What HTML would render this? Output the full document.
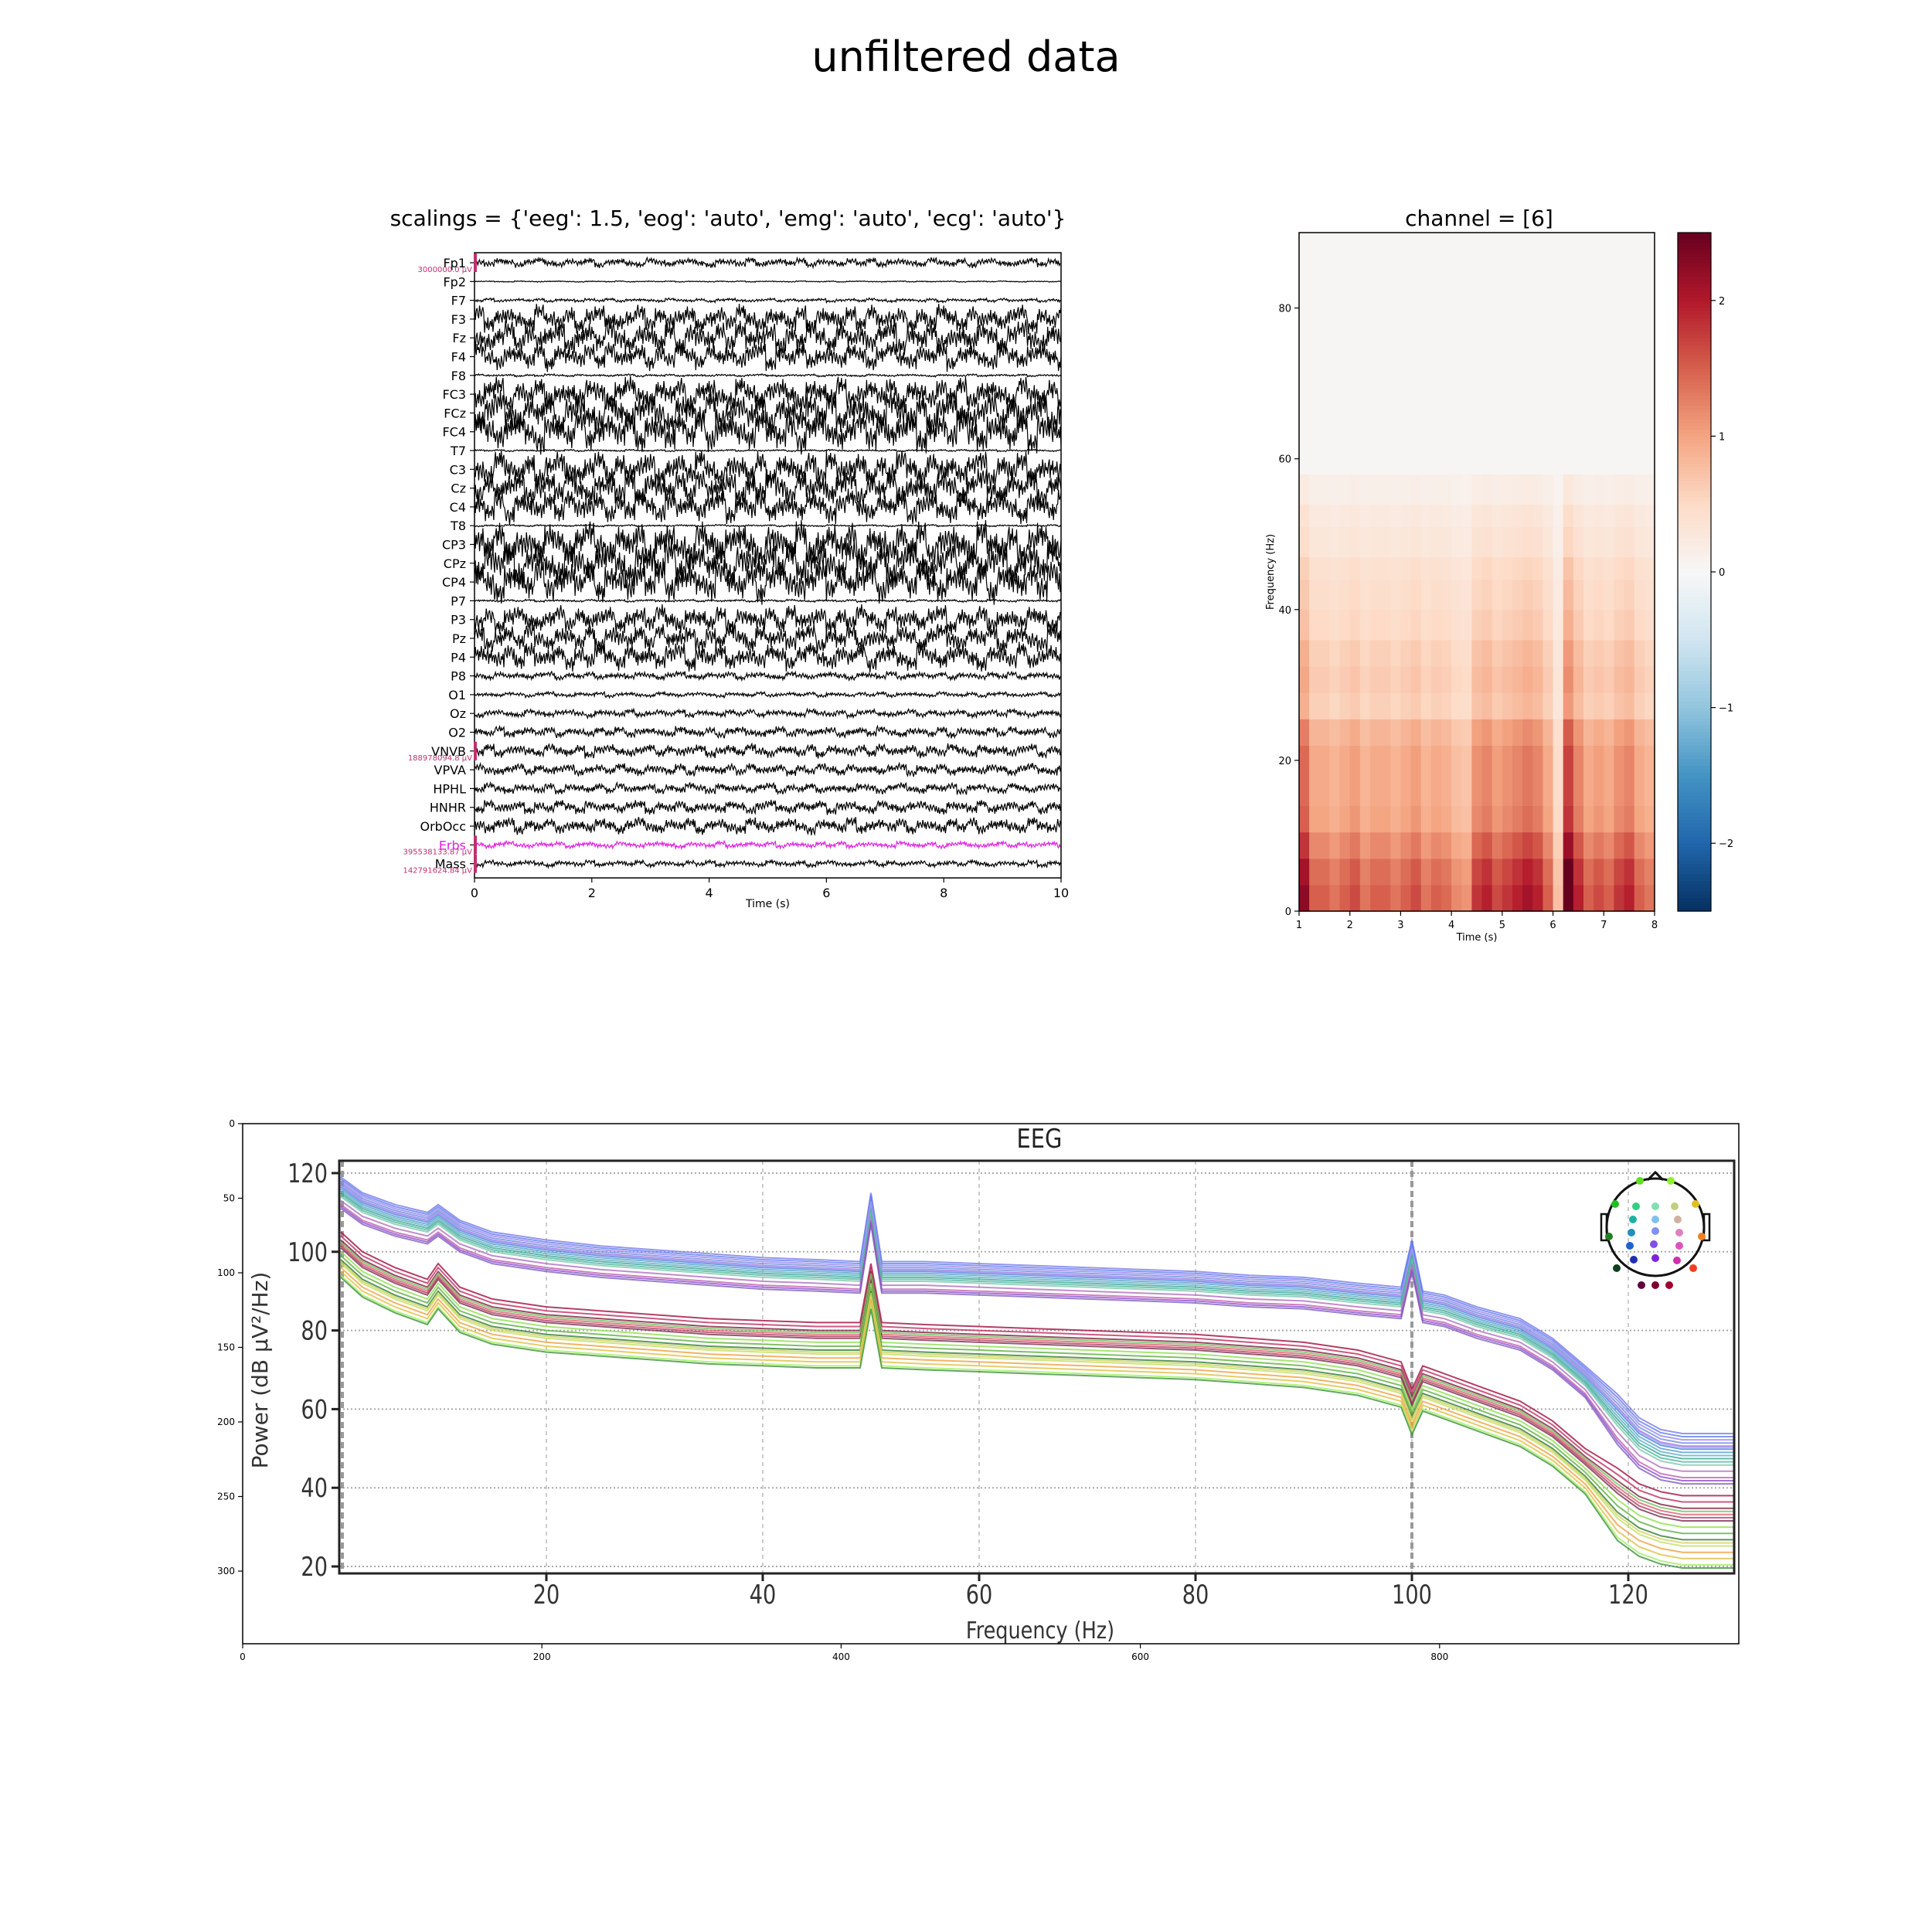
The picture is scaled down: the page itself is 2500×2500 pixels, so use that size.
<!DOCTYPE html>
<html><head><meta charset="utf-8"><style>
html,body{margin:0;padding:0;background:#fff;}
svg{display:block;font-family:"DejaVu Sans","Liberation Sans",sans-serif;}
</style></head><body>
<svg id="fig" width="2500" height="2500" viewBox="0 0 2500 2500" xmlns="http://www.w3.org/2000/svg">
<rect width="2500" height="2500" fill="#fff"/>
<text x="1250" y="92" font-size="54" text-anchor="middle">unfiltered data</text>
<g id="traces"></g>
<g id="spec"></g>
<g id="psd"></g>
</svg>
<script>
// ---------- data ----------
const channels = ["Fp1","Fp2","F7","F3","Fz","F4","F8","FC3","FCz","FC4","T7","C3","Cz","C4","T8","CP3","CPz","CP4","P7","P3","Pz","P4","P8","O1","Oz","O2","VNVB","VPVA","HPHL","HNHR","OrbOcc","Erbs","Mass"];
const amps = [0.35,0.05,0.15,1.0,1.2,1.0,0.1,1.2,1.5,1.5,0.08,1.3,1.3,1.2,0.08,1.6,1.6,1.5,0.1,1.0,1.0,1.0,0.3,0.2,0.3,0.4,0.5,0.45,0.4,0.5,0.6,0.25,0.25];
const wave = [0.1,-0.4,0.6,0.2,-0.8,0.3,0.9,-0.2,-0.6,0.4,0.0,0.7,-0.9,0.2,0.5,-0.3,-0.7,0.8,0.1,-0.5,0.3,0.6,-0.1,-0.9,0.4,0.2,-0.4,0.9,-0.6,0.0,0.5,-0.2,0.7,-0.8,0.3,0.1,-0.5,0.6,-0.3,0.8,-0.7,0.2,0.4,-0.1,-0.6,0.9,0.0,-0.4,0.5,-0.9,0.3,0.7,-0.2,-0.5,0.1,0.8,-0.6,0.4,-0.3,0.2,0.6,-0.8,0.0,0.5,-0.4,0.9,-0.1,-0.7,0.3,0.2,-0.5,0.7,-0.9,0.4,0.1,-0.3,0.6,-0.6,0.8,-0.2,0.0,0.5,-0.8,0.3,-0.4,0.9,0.1,-0.7,0.6,-0.1,0.2,-0.5,0.4,0.8,-0.9,0.3,-0.2,0.7,-0.6,0.0];
const traceTicks = [0,2,4,6,8,10];

const specTicksX = [1,2,3,4,5,6,7,8];
const specTicksY = [0,20,40,60,80];
const bandEdges = [0,3.5,7,10.5,14,18,22,25.5,29,32.5,36,40,44,47,51,54,58,90];
const rowMean = [1.5,1.4,1.2,1.0,0.95,0.95,0.85,0.6,0.65,0.6,0.5,0.45,0.4,0.3,0.25,0.15,0.03];
const colFactor = [1.5,1.0,1.0,0.9,1.0,1.1,0.9,1.0,1.0,0.9,1.0,1.1,0.9,1.0,0.95,0.8,0.75,1.2,1.3,1.1,1.2,1.3,1.4,1.3,1.0,0.5,1.8,1.3,1.0,1.1,1.0,1.2,1.3,1.0,0.9];
const cbarTicks = [-2,-1,0,1,2];

const psdFreqs = [1,3,6,9,10,12,15,20,25,30,35,40,45,49,50,51,55,60,65,70,75,80,85,90,95,99,100,101,103,106,110,113,116,119,121,123,125,130];
const highGroup = [116,112,109,107,109,105,102,100,98.5,97.5,96.5,95.5,95,94.5,112,94.5,94.5,94,93.5,93,92.5,92,91,90.5,89,88,100,87,86,83,80,75,68,59,53,50,49,49];
const lowGroup  = [100,95,91,88,92,86,83,81,80,79,78,77.5,77,77,92,77,76.5,76,75.5,75,74.5,74,73,72,70,67,60,66,64,61,57,52,45,37,33,31,30,30];
const highOffsets = [3,2,1.5,0.5,0,-0.5,-1,-2,1,-3,-4,-4.5,-5,2.5,-1.5,0.8];
const highColors = ["#7b7be8","#9a86f0","#6d8fe0","#4c7fd8","#55a0d0","#5fb0c0","#3aa69a","#80c8b0","#a070e0","#b070c0","#c060b0","#9050d0","#8060c0","#6080f0","#50b8a0","#a0a0f0"];
const lowOffsets = [5,4,3,2,1.5,1,0,-1,-2,-3,-4,-5,-6,-6.5,2.5,-2.5];
const lowColors = ["#a01040","#c03060","#802040","#e06070","#b04060","#7a3050","#90e050","#60b040","#308030","#c0e060","#f0a040","#e0c040","#a0f060","#409040","#70c060","#d0d060"];
const psdTicksX = [20,40,60,80,100,120];
const psdTicksY = [20,40,60,80,100,120];
const imgTicksX = [0,200,400,600,800];
const imgTicksY = [0,50,100,150,200,250,300];

// ---------- helpers ----------
const NS = "http://www.w3.org/2000/svg";
function mk(parent, tag, attrs, text){
  const e = document.createElementNS(NS, tag);
  for (const k in attrs) e.setAttribute(k, attrs[k]);
  if (text !== undefined) e.textContent = text;
  parent.appendChild(e); return e;
}

// ---------- traces panel ----------
(function(){
  const g = document.getElementById('traces');
  const L=614, R=1373, T=327, B=1136;
  const y0=340, dy=24.3;
  const xT = t => L + (t/10)*(R-L);
  const chY = i => y0 + i*dy;
  let t = mk(g,'text',{x:942, y:292, 'font-size':28, 'text-anchor':'middle'}, "scalings = {'eeg': 1.5, 'eog': 'auto', 'emg': 'auto', 'ecg': 'auto'}");
  
  
  const N = 700;
  channels.forEach((name,i)=>{
    const yc = chY(i);
    let pts = [];
    const off = (i*37)%wave.length;
    const slow = (i*13)%wave.length;
    for (let k=0;k<=N;k++){
      const v = wave[(k+off)%wave.length]*0.6 + wave[(Math.floor(k/12)+slow)%wave.length]*0.6;
      pts.push((L + k*(R-L)/N).toFixed(1)+','+(yc - v*amps[i]*dy*0.75).toFixed(1));
    }
    const p = mk(g,'polyline',{points:pts.join(' '), fill:'none', stroke: name==='Erbs'?'#e020e0':'#000', 'stroke-width':1.2});
    
    
    const lb = mk(g,'text',{x:603, y:yc+6, 'font-size':16, 'text-anchor':'end', fill: name==='Erbs'?'#e020e0':'#000'}, name);
    
    
    mk(g,'line',{x1:L-6,x2:L,y1:yc,y2:yc,stroke:'#000','stroke-width':1.2});
  });
  const f = mk(g,'rect',{x:L,y:T,width:R-L,height:B-T,fill:'none',stroke:'#000','stroke-width':1.5});
  
  
  [[0,"3000000.0 µV"],[26,"188978094.8 µV"],[31,"395538133.87 µV"],[32,"142791624.84 µV"]].forEach(([i,lab])=>{
    const yc=chY(i);
    mk(g,'line',{x1:L+1,x2:L+1,y1:yc-12,y2:yc+12,stroke:'#c03070','stroke-width':4});
    const s = mk(g,'text',{x:L-3,y:yc+12,'font-size':10,'text-anchor':'end',fill:'#c03070'},lab);
    
    
  });
  traceTicks.forEach(v=>{
    mk(g,'line',{x1:xT(v),x2:xT(v),y1:B,y2:B+6,stroke:'#000','stroke-width':1.2});
    const s=mk(g,'text',{x:xT(v),y:B+25,'font-size':16,'text-anchor':'middle'},String(v));
    
    
  });
  const xl=mk(g,'text',{x:(L+R)/2,y:B+38,'font-size':14,'text-anchor':'middle'},'Time (s)');
  
  
})();

// ---------- spectrogram ----------
const rdbu = ["#053061","#2166ac","#4393c3","#92c5de","#d1e5f0","#f7f7f7","#fddbc7","#f4a582","#d6604d","#b2182b","#67001f"];
function cmap(v){
  let u = (v+2.5)/5; u=Math.max(0,Math.min(1,u));
  const s = u*(rdbu.length-1), i=Math.min(rdbu.length-2,Math.floor(s)), fr=s-i;
  const a=rdbu[i], b=rdbu[i+1];
  const c=[1,3,5].map(j=>Math.round(parseInt(a.substr(j,2),16)*(1-fr)+parseInt(b.substr(j,2),16)*fr));
  return 'rgb('+c.join(',')+')';
}
(function(){
  const g=document.getElementById('spec');
  const L=1681,R=2141,T=301,B=1179;
  const xT=t=>L+(t-1)/7*(R-L);
  const yF=f=>B-(f/90)*(B-T);
  const nC=colFactor.length, w=(R-L)/nC;
  rowMean.forEach((rm,r)=>{
    colFactor.forEach((cf,c)=>{
      const v = r===rowMean.length-1 ? rm : rm*cf;
      const y1=yF(bandEdges[r+1]), y2=yF(bandEdges[r]);
      const cell=mk(g,'rect',{x:(L+c*w).toFixed(2),y:y1.toFixed(2),width:(w+0.6).toFixed(2),height:(y2-y1+0.6).toFixed(2),fill:cmap(v)});
      
      
    });
  });
  const f=mk(g,'rect',{x:L,y:T,width:R-L,height:B-T,fill:'none',stroke:'#000','stroke-width':1.5});
  
  
  const tt=mk(g,'text',{x:1914,y:292,'font-size':28,'text-anchor':'middle'},'channel = [6]');
  
  
  specTicksX.forEach(v=>{
    mk(g,'line',{x1:xT(v),x2:xT(v),y1:B,y2:B+6,stroke:'#000','stroke-width':1.2});
    const s=mk(g,'text',{x:xT(v),y:B+22,'font-size':13,'text-anchor':'middle'},String(v));
    
    
  });
  specTicksY.forEach(v=>{
    mk(g,'line',{x1:L-6,x2:L,y1:yF(v),y2:yF(v),stroke:'#000','stroke-width':1.2});
    const s=mk(g,'text',{x:L-10,y:yF(v)+5,'font-size':13,'text-anchor':'end'},String(v));
    
    
  });
  const xl=mk(g,'text',{x:(L+R)/2,y:B+38,'font-size':13,'text-anchor':'middle'},'Time (s)');
  
  
  const yl=mk(g,'text',{x:0,y:0,'font-size':13,'text-anchor':'middle',transform:'translate(1648,'+((T+B)/2)+') rotate(-90)'},'Frequency (Hz)');
  
  
  const CL=2171,CR=2214;
  const yc=v=>B-(v+2.5)/5*(B-T);
  for(let k=0;k<200;k++){
    const v=-2.5+5*(k+0.5)/200;
    mk(g,'rect',{x:CL,y:(B-(k+1)*(B-T)/200).toFixed(2),width:CR-CL,height:((B-T)/200+0.6).toFixed(2),fill:cmap(v)});
  }
  const cb=mk(g,'rect',{x:CL,y:T,width:CR-CL,height:B-T,fill:'none',stroke:'#000','stroke-width':1.2});
  
  
  cbarTicks.forEach(v=>{
    mk(g,'line',{x1:CR,x2:CR+6,y1:yc(v),y2:yc(v),stroke:'#000','stroke-width':1.2});
    const s=mk(g,'text',{x:CR+10,y:yc(v)+5,'font-size':13},v<0?'\u2212'+Math.abs(v):String(v));
    
    
  });
})();

// ---------- PSD image panel ----------
(function(){
  const g=document.getElementById('psd');
  const OL=314,OR=2250,OT=1454,OB=2127;
  const ix=v=>OL+v*1.936;
  const iy=v=>OT+v*1.93;
  const L=439,R=2244,T=1502,B=2036;
  const xF=f=>427+f*14.0;
  const yV=v=>1518+(120-v)*5.09;
  psdTicksX.forEach(v=>{ mk(g,'line',{x1:xF(v),x2:xF(v),y1:T,y2:B,stroke:'#bbb','stroke-width':1.5,'stroke-dasharray':'5,5'}); });
  psdTicksY.forEach(v=>{ mk(g,'line',{x1:L,x2:R,y1:yV(v),y2:yV(v),stroke:'#aaa','stroke-width':2,'stroke-dasharray':'2,3'}); });
  mk(g,'line',{x1:xF(100),x2:xF(100),y1:T,y2:B,stroke:'#999','stroke-width':4,'stroke-dasharray':'8,5'});
  mk(g,'line',{x1:L+4,x2:L+4,y1:T,y2:B,stroke:'#999','stroke-width':4,'stroke-dasharray':'8,5'});
  const clip=mk(g,'clipPath',{id:'psdclip'}); mk(clip,'rect',{x:L,y:T,width:R-L,height:B-T});
  const lines=mk(g,'g',{'clip-path':'url(#psdclip)'});
  function drawGroup(base,offs,cols,nm){
    offs.forEach((o,i)=>{
      const pts=psdFreqs.map((f,k)=>xF(f).toFixed(1)+','+yV(base[k]+o*(k>32?1.6:1)).toFixed(1)).join(' ');
      const p=mk(lines,'polyline',{points:pts,fill:'none',stroke:cols[i],'stroke-width':2,'stroke-opacity':0.8});
      
      
    });
  }
  drawGroup(highGroup,highOffsets,highColors,'high-group');
  drawGroup(lowGroup,lowOffsets,lowColors,'low-group');
  const fr=mk(g,'rect',{x:L,y:T,width:R-L,height:B-T,fill:'none',stroke:'#222','stroke-width':3});
  
  
  psdTicksX.forEach(v=>{
    mk(g,'line',{x1:xF(v),x2:xF(v),y1:B,y2:B+10,stroke:'#222','stroke-width':3});
    const s=mk(g,'text',{x:0,y:0,'font-size':34,'text-anchor':'middle',fill:'#333',transform:'translate('+xF(v)+',2075) scale(0.8,1)'},String(v));
    
    
  });
  psdTicksY.forEach(v=>{
    mk(g,'line',{x1:L-10,x2:L,y1:yV(v),y2:yV(v),stroke:'#222','stroke-width':3});
    const s=mk(g,'text',{x:0,y:0,'font-size':34,'text-anchor':'end',fill:'#333',transform:'translate(424,'+(yV(v)+12)+') scale(0.8,1)'},String(v));
    
    
  });
  const ti=mk(g,'text',{x:0,y:0,'font-size':34,'text-anchor':'middle',fill:'#222',transform:'translate(1345,1485) scale(0.85,1)'},'EEG');
  
  
  const xl=mk(g,'text',{x:0,y:0,'font-size':30,'text-anchor':'middle',fill:'#333',transform:'translate(1346,2120) scale(0.85,1)'},'Frequency (Hz)');
  
  
  const yl=mk(g,'text',{x:0,y:0,'font-size':28,'text-anchor':'middle',fill:'#333',transform:'translate(346,1773) rotate(-90)'},'Power (dB µV²/Hz)');
  
  
  const cx=2142,cy=1588,r=63;
  mk(g,'circle',{cx:cx,cy:cy,r:r,fill:'none',stroke:'#111','stroke-width':3});
  mk(g,'polyline',{points:(cx-10)+','+(cy-r+2)+' '+cx+','+(cy-r-8)+' '+(cx+10)+','+(cy-r+2),fill:'none',stroke:'#111','stroke-width':3});
  mk(g,'rect',{x:cx-r-7,y:cy-17,width:7,height:34,fill:'none',stroke:'#111','stroke-width':2.5});
  mk(g,'rect',{x:cx+r,y:cy-17,width:7,height:34,fill:'none',stroke:'#111','stroke-width':2.5});
  const dots=[[-20,-60,'#60e020'],[20,-60,'#90f030'],[-52,-30,'#20c020'],[52,-30,'#e0c020'],[-25,-27,'#30d080'],[0,-27,'#80e0b0'],[25,-27,'#c0d080'],[-29,-10,'#20b0a0'],[0,-10,'#80c0f0'],[29,-10,'#d0b0a0'],[-31,7,'#2090c0'],[0,5,'#8090f8'],[31,7,'#e080c0'],[-60,12,'#208020'],[60,12,'#f08020'],[-33,24,'#2060d0'],[-2,22,'#8050e0'],[31,24,'#e050c0'],[-28,42,'#2030b0'],[0,40,'#8020e0'],[28,43,'#d030b0'],[-50,53,'#104020'],[49,53,'#f04020'],[-18,75,'#600040'],[0,75,'#800030'],[18,75,'#a00030']];
  dots.forEach(d=>{
    const c=mk(g,'circle',{cx:cx+d[0],cy:cy+d[1],r:5,fill:d[2]});
    
    
  });
  const of=mk(g,'rect',{x:OL,y:OT,width:OR-OL,height:OB-OT,fill:'none',stroke:'#000','stroke-width':1.5});
  
  
  imgTicksX.forEach(v=>{
    mk(g,'line',{x1:ix(v),x2:ix(v),y1:OB,y2:OB+6,stroke:'#000','stroke-width':1.2});
    const s=mk(g,'text',{x:ix(v),y:OB+21,'font-size':12,'text-anchor':'middle'},String(v));
    
    
  });
  imgTicksY.forEach(v=>{
    mk(g,'line',{x1:OL-6,x2:OL,y1:iy(v),y2:iy(v),stroke:'#000','stroke-width':1.2});
    const s=mk(g,'text',{x:OL-10,y:iy(v)+4,'font-size':12,'text-anchor':'end'},String(v));
    
    
  });
})();
</script>
</body></html>
